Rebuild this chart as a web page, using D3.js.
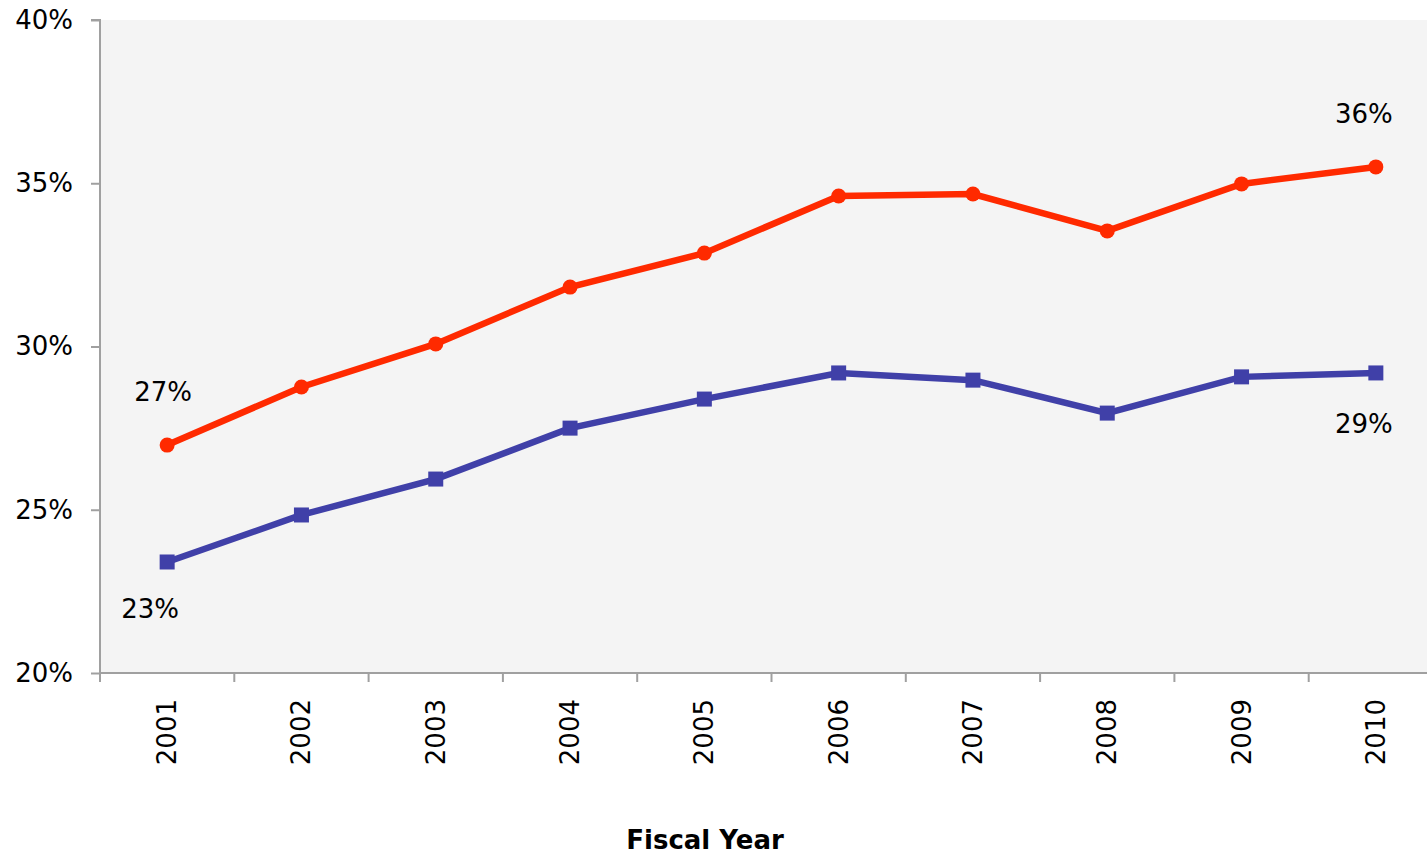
<!DOCTYPE html>
<html>
<head>
<meta charset="utf-8">
<script src="https://cdn.jsdelivr.net/npm/d3@7"></script>
<style>
  body { margin: 0; background: #fff; }
  text { font-family: "DejaVu Sans", Verdana, sans-serif; }
</style>
</head>
<body>
<div id="chart"></div>
<script>
// fiscal years and the two series (percent)
var years = ["2001","2002","2003","2004","2005","2006","2007","2008","2009","2010"]
var upperSeries = [26.98, 28.76, 30.08, 31.82, 32.86, 34.61, 34.67, 33.54, 34.98, 35.50]
var lowerSeries = [23.40, 24.84, 25.94, 27.50, 28.39, 29.19, 28.97, 27.96, 29.07, 29.19]
var yTicks = [20, 25, 30, 35, 40]
var endLabels = [
  {series: "upper", idx: 0, text: "27%"},
  {series: "lower", idx: 0, text: "23%"},
  {series: "upper", idx: 9, text: "36%"},
  {series: "lower", idx: 9, text: "29%"}
]

var width = 1427, height = 855
var plotLeft = 100, plotTop = 20, plotBottom = 673
var band = 134.3
var fs = 26

var svg = d3.select("#chart").append("svg")
  .attr("width", width)
  .attr("height", height)

var x = d3.scaleBand()
  .domain(years)
  .range([plotLeft, plotLeft + band * years.length])
  .padding(0)

var y = d3.scaleLinear()
  .domain([20, 40])
  .range([plotBottom, plotTop])

var cx = function(i){ return x(years[i]) + x.bandwidth() / 2 }

// plot background
svg.append("rect")
  .attr("x", plotLeft)
  .attr("y", plotTop)
  .attr("width", x.range()[1] - plotLeft)
  .attr("height", plotBottom - plotTop)
  .attr("fill", "#f4f4f4")

// y axis
var yAxis = svg.append("g")
  .attr("transform", "translate(" + plotLeft + ",0)")
  .call(d3.axisLeft(y).tickValues(yTicks).tickSize(9).tickPadding(18)
        .tickFormat(function(d){ return d + "%" }))
yAxis.selectAll("path, line").attr("stroke", "#a0a0a0").attr("stroke-width", 2)
yAxis.select(".domain").attr("d", "M-9," + plotTop + "H0V" + plotBottom)
yAxis.selectAll("text")
  .attr("font-size", fs)
  .attr("fill", "#000")
  .attr("font-family", "DejaVu Sans, Verdana, sans-serif")

// x axis with ticks on band edges
var xg = svg.append("g").attr("transform", "translate(0," + plotBottom + ")")
xg.append("line")
  .attr("x1", plotLeft).attr("x2", x.range()[1])
  .attr("stroke", "#a0a0a0").attr("stroke-width", 2)
xg.selectAll(".tk").data(years).enter().append("line")
  .attr("x1", function(d){ return x(d) }).attr("x2", function(d){ return x(d) })
  .attr("y1", 0).attr("y2", 9)
  .attr("stroke", "#a0a0a0").attr("stroke-width", 2)
xg.selectAll(".lbl").data(years).enter().append("text")
  .attr("transform", function(d){ return "translate(" + (x(d) + x.bandwidth() / 2 + 9) + ",26) rotate(-90)" })
  .attr("text-anchor", "end")
  .attr("font-size", fs)
  .text(function(d){ return d })

svg.append("text")
  .attr("x", 705)
  .attr("y", 849)
  .attr("text-anchor", "middle")
  .attr("font-size", fs)
  .attr("font-weight", "bold")
  .text("Fiscal Year")

var line = d3.line()
  .x(function(d, i){ return cx(i) })
  .y(function(d){ return y(d) })

svg.append("path")
  .datum(lowerSeries)
  .attr("d", line)
  .attr("fill", "none")
  .attr("stroke", "#4040a8")
  .attr("stroke-width", 6.5)

svg.selectAll(".sq").data(lowerSeries).enter().append("rect")
  .attr("x", function(d, i){ return cx(i) - 7.5 })
  .attr("y", function(d){ return y(d) - 7.5 })
  .attr("width", 15).attr("height", 15)
  .attr("fill", "#4040a8")

svg.append("path")
  .datum(upperSeries)
  .attr("d", line)
  .attr("fill", "none")
  .attr("stroke", "#ff2a00")
  .attr("stroke-width", 6.5)

svg.selectAll(".dot").data(upperSeries).enter().append("circle")
  .attr("cx", function(d, i){ return cx(i) })
  .attr("cy", function(d){ return y(d) })
  .attr("r", 7.5)
  .attr("fill", "#ff2a00")

// value labels near the ends
var labelOffset = {"27%": [-4, -44], "23%": [-17, 56], "36%": [-12, -44], "29%": [-12, 60]}
svg.selectAll(".val").data(endLabels).enter().append("text")
  .attr("x", function(d){ return cx(d.idx) + labelOffset[d.text][0] })
  .attr("y", function(d){
    var v = d.series == "upper" ? upperSeries[d.idx] : lowerSeries[d.idx]
    return y(v) + labelOffset[d.text][1]
  })
  .attr("text-anchor", "middle")
  .attr("font-size", fs)
  .text(function(d){ return d.text })
</script>
</body>
</html>
